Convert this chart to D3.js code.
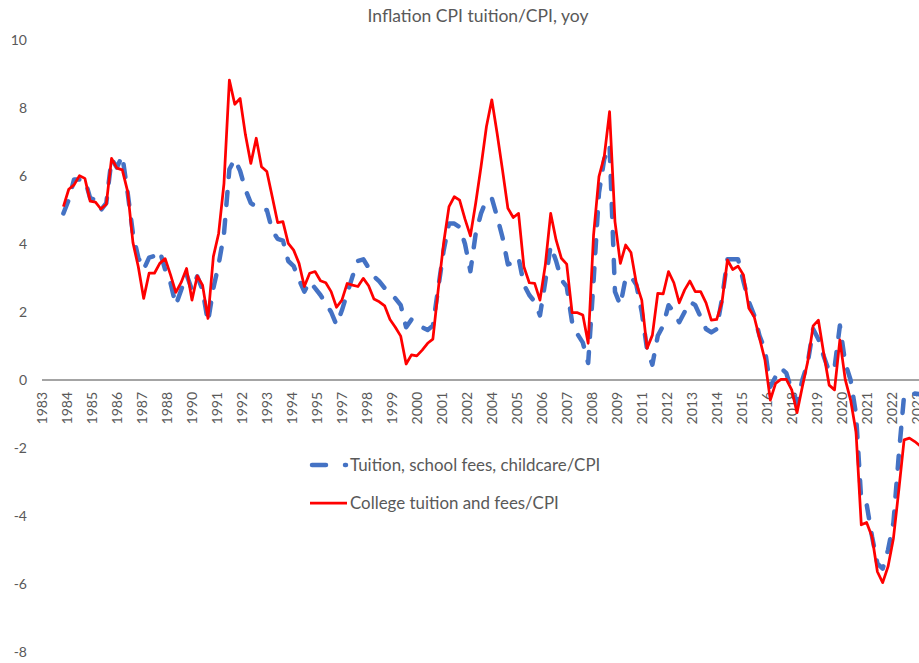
<!DOCTYPE html>
<html>
<head>
<meta charset="utf-8">
<script src="https://cdn.jsdelivr.net/npm/d3@7"></script>
<style>
  html, body { margin: 0; padding: 0; background: #fff; }
  svg { display: block; }
  text { font-family: Lato, "Open Sans", sans-serif; fill: #595959; }
</style>
</head>
<body>
<svg id="chart" width="919" height="663"></svg>
<script>
// Quarterly year-over-year inflation of tuition indexes relative to CPI, 1984Q1 onward
const seriesStart = "1984-01";

const schoolFeesChildcare = [
  4.90, 5.30, 5.90, 5.90, 5.90, 5.35, 5.30, 5.00, 5.20, 6.50,
  6.25, 6.60, 5.50, 4.30, 3.60, 3.25, 3.60, 3.65, 3.80, 3.25,
  2.85, 2.20, 2.65, 3.10, 2.65, 3.05, 2.65, 1.70, 2.70, 3.40,
  4.30, 6.20, 6.50, 6.15, 5.60, 5.20, 5.10, 5.00, 5.00, 4.40,
  4.15, 4.10, 3.50, 3.35, 2.95, 2.60, 2.90, 2.70, 2.50, 2.25,
  2.00, 1.62, 2.05, 2.55, 3.05, 3.50, 3.55, 3.30, 3.05, 2.90,
  2.70, 2.55, 2.40, 2.20, 1.55, 1.78, 1.65, 1.55, 1.47, 1.60,
  2.70, 3.80, 4.60, 4.60, 4.50, 4.00, 3.20, 4.30, 4.90, 5.30,
  5.35, 4.80, 4.20, 3.40, 3.45, 3.60, 2.80, 2.50, 2.30, 1.90,
  2.90, 3.95, 3.50, 2.95, 2.75, 1.70, 1.35, 1.10, 0.50, 2.90,
  5.50, 6.50, 6.90, 2.60, 2.20, 3.00, 3.05, 2.80, 2.00, 0.90,
  0.45, 1.30, 1.60, 2.20, 2.00, 1.70, 2.00, 2.30, 2.20, 1.85,
  1.50, 1.40, 1.50, 2.40, 3.55, 3.55, 3.55, 2.90, 2.30, 1.90,
  1.30, 0.90, -0.20, 0.10, 0.35, 0.20, -0.30, -0.70, 0.00, 0.50,
  1.50, 1.20, 0.70, 0.25, 0.35, 1.60, 0.50, 0.00, -1.00, -3.55,
  -3.65, -4.60, -5.40, -5.55, -5.00, -4.20, -2.20, -0.45, -0.42, -0.40,
  -0.42
];

const collegeTuition = [
  5.10, 5.61, 5.74, 6.01, 5.93, 5.26, 5.23, 5.03, 5.17, 6.52,
  6.23, 6.18, 5.54, 4.04, 3.33, 2.40, 3.14, 3.14, 3.43, 3.57,
  3.09, 2.58, 2.87, 3.28, 2.35, 3.06, 2.79, 1.81, 3.63, 4.31,
  5.78, 8.82, 8.11, 8.28, 7.21, 6.37, 7.11, 6.27, 6.13, 5.39,
  4.63, 4.66, 4.02, 3.82, 3.43, 2.75, 3.14, 3.19, 2.92, 2.86,
  2.60, 2.14, 2.35, 2.84, 2.79, 2.75, 2.99, 2.77, 2.38, 2.30,
  2.18, 1.78, 1.55, 1.29, 0.47, 0.74, 0.71, 0.88, 1.08, 1.20,
  2.65, 4.02, 5.10, 5.39, 5.29, 4.73, 4.24, 5.20, 6.27, 7.45,
  8.24, 7.25, 6.18, 5.05, 4.78, 4.90, 3.33, 2.86, 2.84, 2.35,
  3.38, 4.90, 4.12, 3.58, 3.41, 1.98, 1.98, 1.91, 1.08, 4.26,
  5.98, 6.57, 7.89, 4.66, 3.43, 3.97, 3.75, 2.84, 2.35, 0.93,
  1.32, 2.55, 2.53, 3.19, 2.86, 2.27, 2.65, 2.91, 2.60, 2.60,
  2.27, 1.76, 1.78, 2.30, 3.53, 3.25, 3.35, 3.09, 2.11, 1.86,
  1.23, 0.59, -0.59, -0.10, 0.02, 0.02, -0.29, -0.96, -0.20, 0.54,
  1.59, 1.76, 0.78, -0.15, -0.29, 1.18, 0.02, -0.59, -1.52, -4.26,
  -4.19, -4.61, -5.64, -5.96, -5.49, -4.66, -3.24, -1.76, -1.71, -1.81,
  -1.94
];

const seriesNames = ["Tuition, school fees, childcare/CPI", "College tuition and fees/CPI"];
const seriesColors = ["#4472C4", "#FF0000"];

// Category labels shown along the date axis (one every 14 months from Jan 1983)
const xTickLabels = ["1983","1984","1985","1986","1987","1988","1990","1991","1992","1993",
  "1994","1995","1997","1998","1999","2000","2001","2002","2004","2005","2006","2007",
  "2008","2009","2011","2012","2013","2014","2015","2016","2018","2019","2020","2021",
  "2022","2023"];
const yTicks = [-8, -6, -4, -2, 0, 2, 4, 6, 8, 10];

const svg = d3.select("#chart");
const parseMonth = d3.timeParse("%Y-%m");
const axisStart = parseMonth("1983-01");
const axisEnd = parseMonth("2023-12");

const x = d3.scaleTime().domain([axisStart, axisEnd]).range([42, 918.4]);
const y = d3.scaleLinear().domain([-8, 10]).range([652, 40]);

const start = parseMonth(seriesStart);
const quarterDate = i => d3.timeMonth.offset(start, 3 * i);
const tickDates = xTickLabels.map((_, k) => d3.timeMonth.offset(axisStart, 14 * k));

// Title
svg.append("text")
  .attr("x", 478).attr("y", 22)
  .attr("text-anchor", "middle")
  .style("font-size", "17.5px")
  .text("Inflation CPI tuition/CPI, yoy");

// Value axis labels (no axis line, no gridlines)
const yAxis = d3.axisLeft(y).tickValues(yTicks).tickFormat(d => String(d)).tickSize(0).tickPadding(0);
const yg = svg.append("g").attr("transform", "translate(27,0)").call(yAxis);
yg.select(".domain").remove();
yg.selectAll("text")
  .style("font-size", "14px")
  .style("font-family", "Lato, 'Open Sans', sans-serif")
  .attr("fill", "#595959");

// Category axis crossing at zero
const xAxis = d3.axisBottom(x)
  .tickValues(tickDates)
  .tickFormat((d, i) => xTickLabels[i])
  .tickSize(0);
const xg = svg.append("g").attr("transform", `translate(0,${y(0)})`).call(xAxis);
xg.select(".domain")
  .attr("d", `M42,0H919`)
  .attr("stroke", "#868686")
  .attr("stroke-width", 1.3);
xg.selectAll("text")
  .style("font-size", "14px")
  .style("font-family", "Lato, 'Open Sans', sans-serif")
  .attr("fill", "#595959")
  .attr("text-anchor", "end")
  .attr("transform", "translate(0,12) rotate(-90)")
  .attr("x", 0).attr("y", 0).attr("dy", "0.35em");

// Lines
const line = d3.line()
  .x((d, i) => x(quarterDate(i)))
  .y(d => y(d));

svg.append("path")
  .datum(schoolFeesChildcare)
  .attr("d", line)
  .attr("fill", "none")
  .attr("stroke", seriesColors[0])
  .attr("stroke-width", 4.5)
  .attr("stroke-linecap", "round")
  .attr("stroke-linejoin", "round")
  .attr("stroke-dasharray", "13,15");

svg.append("path")
  .datum(collegeTuition)
  .attr("d", line)
  .attr("fill", "none")
  .attr("stroke", seriesColors[1])
  .attr("stroke-width", 2.75)
  .attr("stroke-linejoin", "round");

// Legend
const legend = svg.append("g");
legend.append("path")
  .attr("d", "M312,465H346")
  .attr("stroke", seriesColors[0])
  .attr("stroke-width", 4.5)
  .attr("stroke-linecap", "round")
  .attr("stroke-dasharray", "14,19");
legend.append("path")
  .attr("d", "M310,503H347")
  .attr("stroke", seriesColors[1])
  .attr("stroke-width", 2.75);
legend.selectAll("text.leg")
  .data(seriesNames)
  .join("text")
  .attr("class", "leg")
  .attr("x", 350)
  .attr("y", (d, i) => 465 + i * 38)
  .attr("dy", "0.35em")
  .style("font-size", "16.9px")
  .text(d => d);
</script>
</body>
</html>
